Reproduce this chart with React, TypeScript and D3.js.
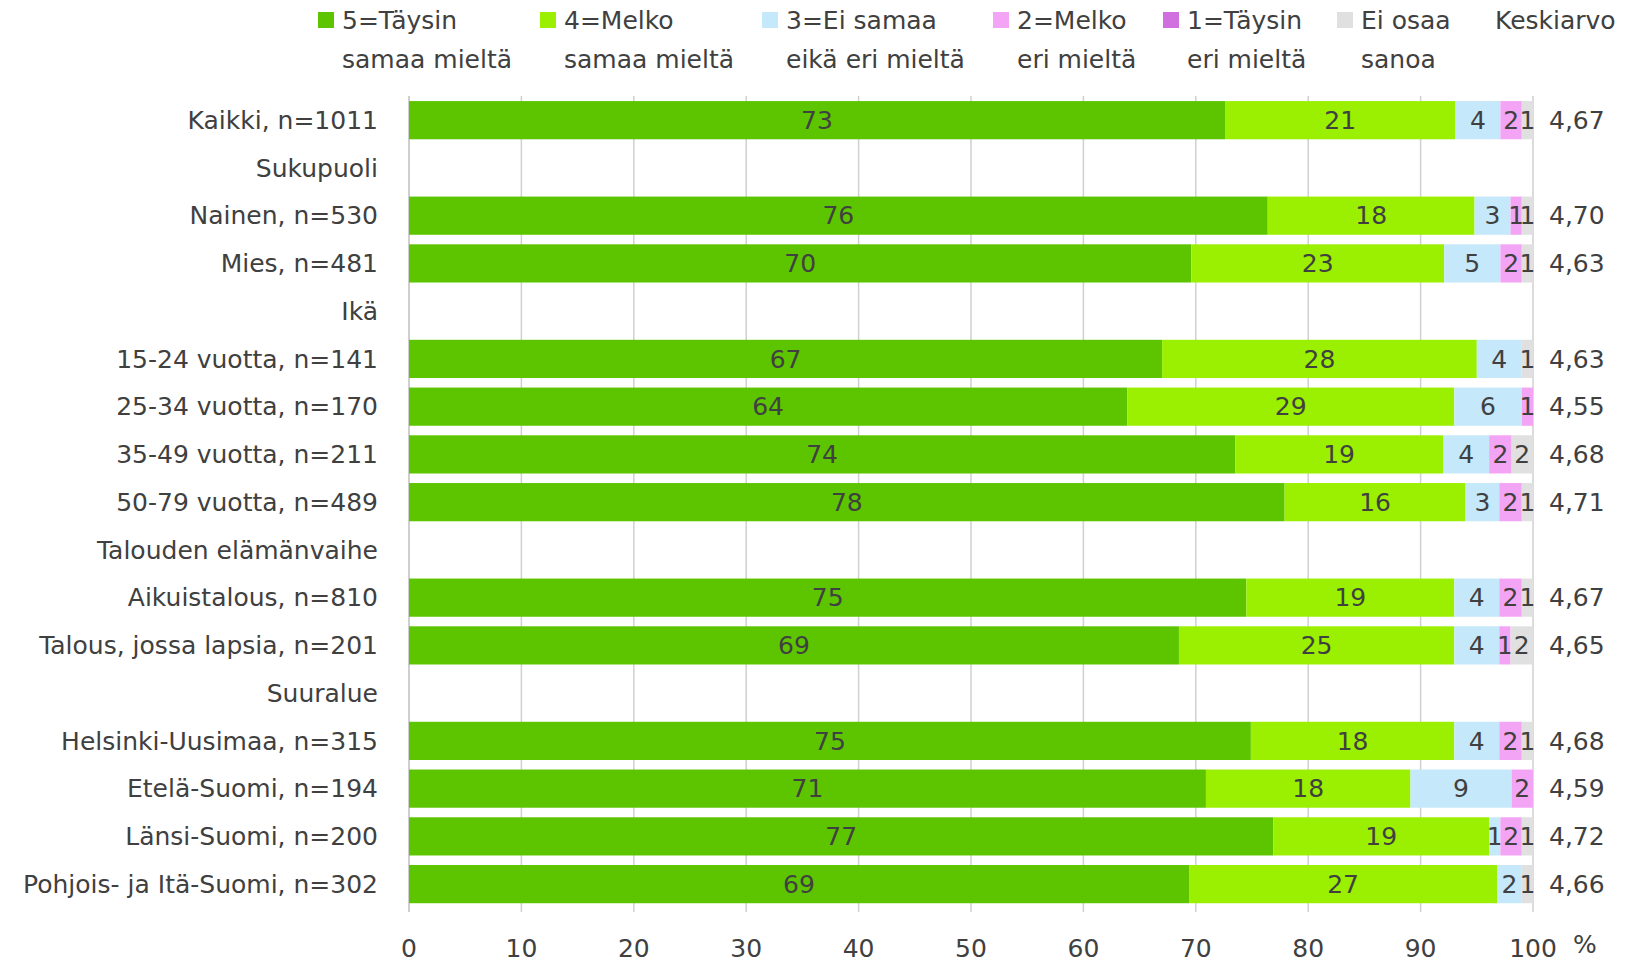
import * as d3 from "d3";
import React, { useEffect } from "react";

const categories = [
  "Kaikki, n=1011",
  "Sukupuoli",
  "Nainen, n=530",
  "Mies, n=481",
  "Ikä",
  "15-24 vuotta, n=141",
  "25-34 vuotta, n=170",
  "35-49 vuotta, n=211",
  "50-79 vuotta, n=489",
  "Talouden elämänvaihe",
  "Aikuistalous, n=810",
  "Talous, jossa lapsia, n=201",
  "Suuralue",
  "Helsinki-Uusimaa, n=315",
  "Etelä-Suomi, n=194",
  "Länsi-Suomi, n=200",
  "Pohjois- ja Itä-Suomi, n=302",
];

// null = group header row (no bar)
const taysinSamaa = [72.6, null, 76.4, 69.6, null, 67.0, 63.9, 73.5, 77.9, null, 74.5, 68.5, null, 74.9, 70.9, 76.9, 69.4];
const melkoSamaa = [20.5, null, 18.4, 22.5, null, 28.0, 29.1, 18.5, 16.1, null, 18.5, 24.5, null, 18.1, 18.2, 19.2, 27.4];
const eiSamaaEiEri = [4.0, null, 3.2, 5.0, null, 4.0, 6.0, 4.1, 3.0, null, 4.0, 4.0, null, 4.0, 9.0, 1.0, 2.2];
const melkoEri = [1.9, null, 1.0, 1.9, null, 0, 1.0, 2.0, 2.0, null, 2.0, 1.0, null, 2.0, 1.9, 1.9, 0];
const taysinEri = [0, null, 0, 0, null, 0, 0, 0, 0, null, 0, 0, null, 0, 0, 0, 0];
const eiOsaa = [1.0, null, 1.0, 1.0, null, 1.0, 0, 1.9, 1.0, null, 1.0, 2.0, null, 1.0, 0, 1.0, 1.0];
const keskiarvo = [4.67, null, 4.70, 4.63, null, 4.63, 4.55, 4.68, 4.71, null, 4.67, 4.65, null, 4.68, 4.59, 4.72, 4.66];

const seriesNames = [
  ["5=Täysin", "samaa mieltä"],
  ["4=Melko", "samaa mieltä"],
  ["3=Ei samaa", "eikä eri mieltä"],
  ["2=Melko", "eri mieltä"],
  ["1=Täysin", "eri mieltä"],
  ["Ei osaa", "sanoa"],
];
const seriesData = [taysinSamaa, melkoSamaa, eiSamaaEiEri, melkoEri, taysinEri, eiOsaa];
const colors = ["#5CC500", "#9AF000", "#C5E8FA", "#F4A4F4", "#D070DE", "#E0E0E0"];
const xTicks = [0, 10, 20, 30, 40, 50, 60, 70, 80, 90, 100];

const W = 1625;
const H = 965;
const FONT = "'DejaVu Sans', sans-serif";
const FS = 25;
const TEXT = "#404040";

const App: React.FC = () => {
  useEffect(() => {
    document.body.style.margin = "0";
  }, []);

  const x = d3.scaleLinear().domain([0, 100]).range([409, 1533]);
  const y = d3
    .scaleBand<string>()
    .domain(categories)
    .range([96.3, 908])
    .paddingInner(0.2)
    .paddingOuter(0.1);

  const legendX = [318, 540, 762, 993, 1163, 1337];

  return (
    <svg width={W} height={H} style={{ display: "block", fontFamily: FONT }}>
      <rect width={W} height={H} fill="white" />

      {/* legend */}
      {seriesNames.map((lines, i) => (
        <g key={i} transform={`translate(${legendX[i]},0)`}>
          <rect x={0} y={12} width={16} height={16} fill={colors[i]} />
          <text x={24} y={20} dy="0.35em" fontSize={FS} fill={TEXT}>
            {lines[0]}
          </text>
          <text x={24} y={59} dy="0.35em" fontSize={FS} fill={TEXT}>
            {lines[1]}
          </text>
        </g>
      ))}
      <text x={1495} y={20} dy="0.35em" fontSize={FS} fill={TEXT}>
        Keskiarvo
      </text>

      {/* gridlines */}
      {xTicks.map((t) => (
        <line
          key={t}
          x1={x(t)}
          x2={x(t)}
          y1={96}
          y2={912}
          stroke={t === 0 ? "#BFBFBF" : "#D0D0D0"}
          strokeWidth={1.5}
        />
      ))}

      {/* bars */}
      {categories.map((cat, r) => {
        if (taysinSamaa[r] === null) return null;
        let acc = 0;
        const y0 = y(cat)!;
        const bw = y.bandwidth();
        return (
          <g key={cat}>
            {seriesData.map((s, i) => {
              const v = s[r] as number;
              const start = acc;
              acc += v;
              if (v <= 0) return null;
              return (
                <g key={i}>
                  <rect x={x(start)} y={y0} width={x(start + v) - x(start)} height={bw} fill={colors[i]} />
                  {Math.round(v) > 0 && (
                    <text
                      x={(x(start) + x(start + v)) / 2}
                      y={y0 + bw / 2}
                      dy="0.35em"
                      textAnchor="middle"
                      fontSize={FS}
                      fill={TEXT}
                    >
                      {Math.round(v)}
                    </text>
                  )}
                </g>
              );
            })}
          </g>
        );
      })}

      {/* category labels */}
      {categories.map((cat) => (
        <text
          key={cat}
          x={378}
          y={y(cat)! + y.bandwidth() / 2}
          dy="0.35em"
          textAnchor="end"
          fontSize={FS}
          fill={TEXT}
        >
          {cat}
        </text>
      ))}

      {/* keskiarvo */}
      {categories.map((cat, r) =>
        keskiarvo[r] === null ? null : (
          <text key={cat} x={1549} y={y(cat)! + y.bandwidth() / 2} dy="0.35em" fontSize={FS} fill={TEXT}>
            {d3.format(".2f")(keskiarvo[r] as number).replace(".", ",")}
          </text>
        )
      )}

      {/* x axis labels */}
      {xTicks.map((t) => (
        <text key={t} x={x(t)} y={948} dy="0.35em" textAnchor="middle" fontSize={FS} fill={TEXT}>
          {t}
        </text>
      ))}
      <text x={1573} y={944} dy="0.35em" fontSize={FS} fill={TEXT}>
        %
      </text>
    </svg>
  );
};

export default App;
